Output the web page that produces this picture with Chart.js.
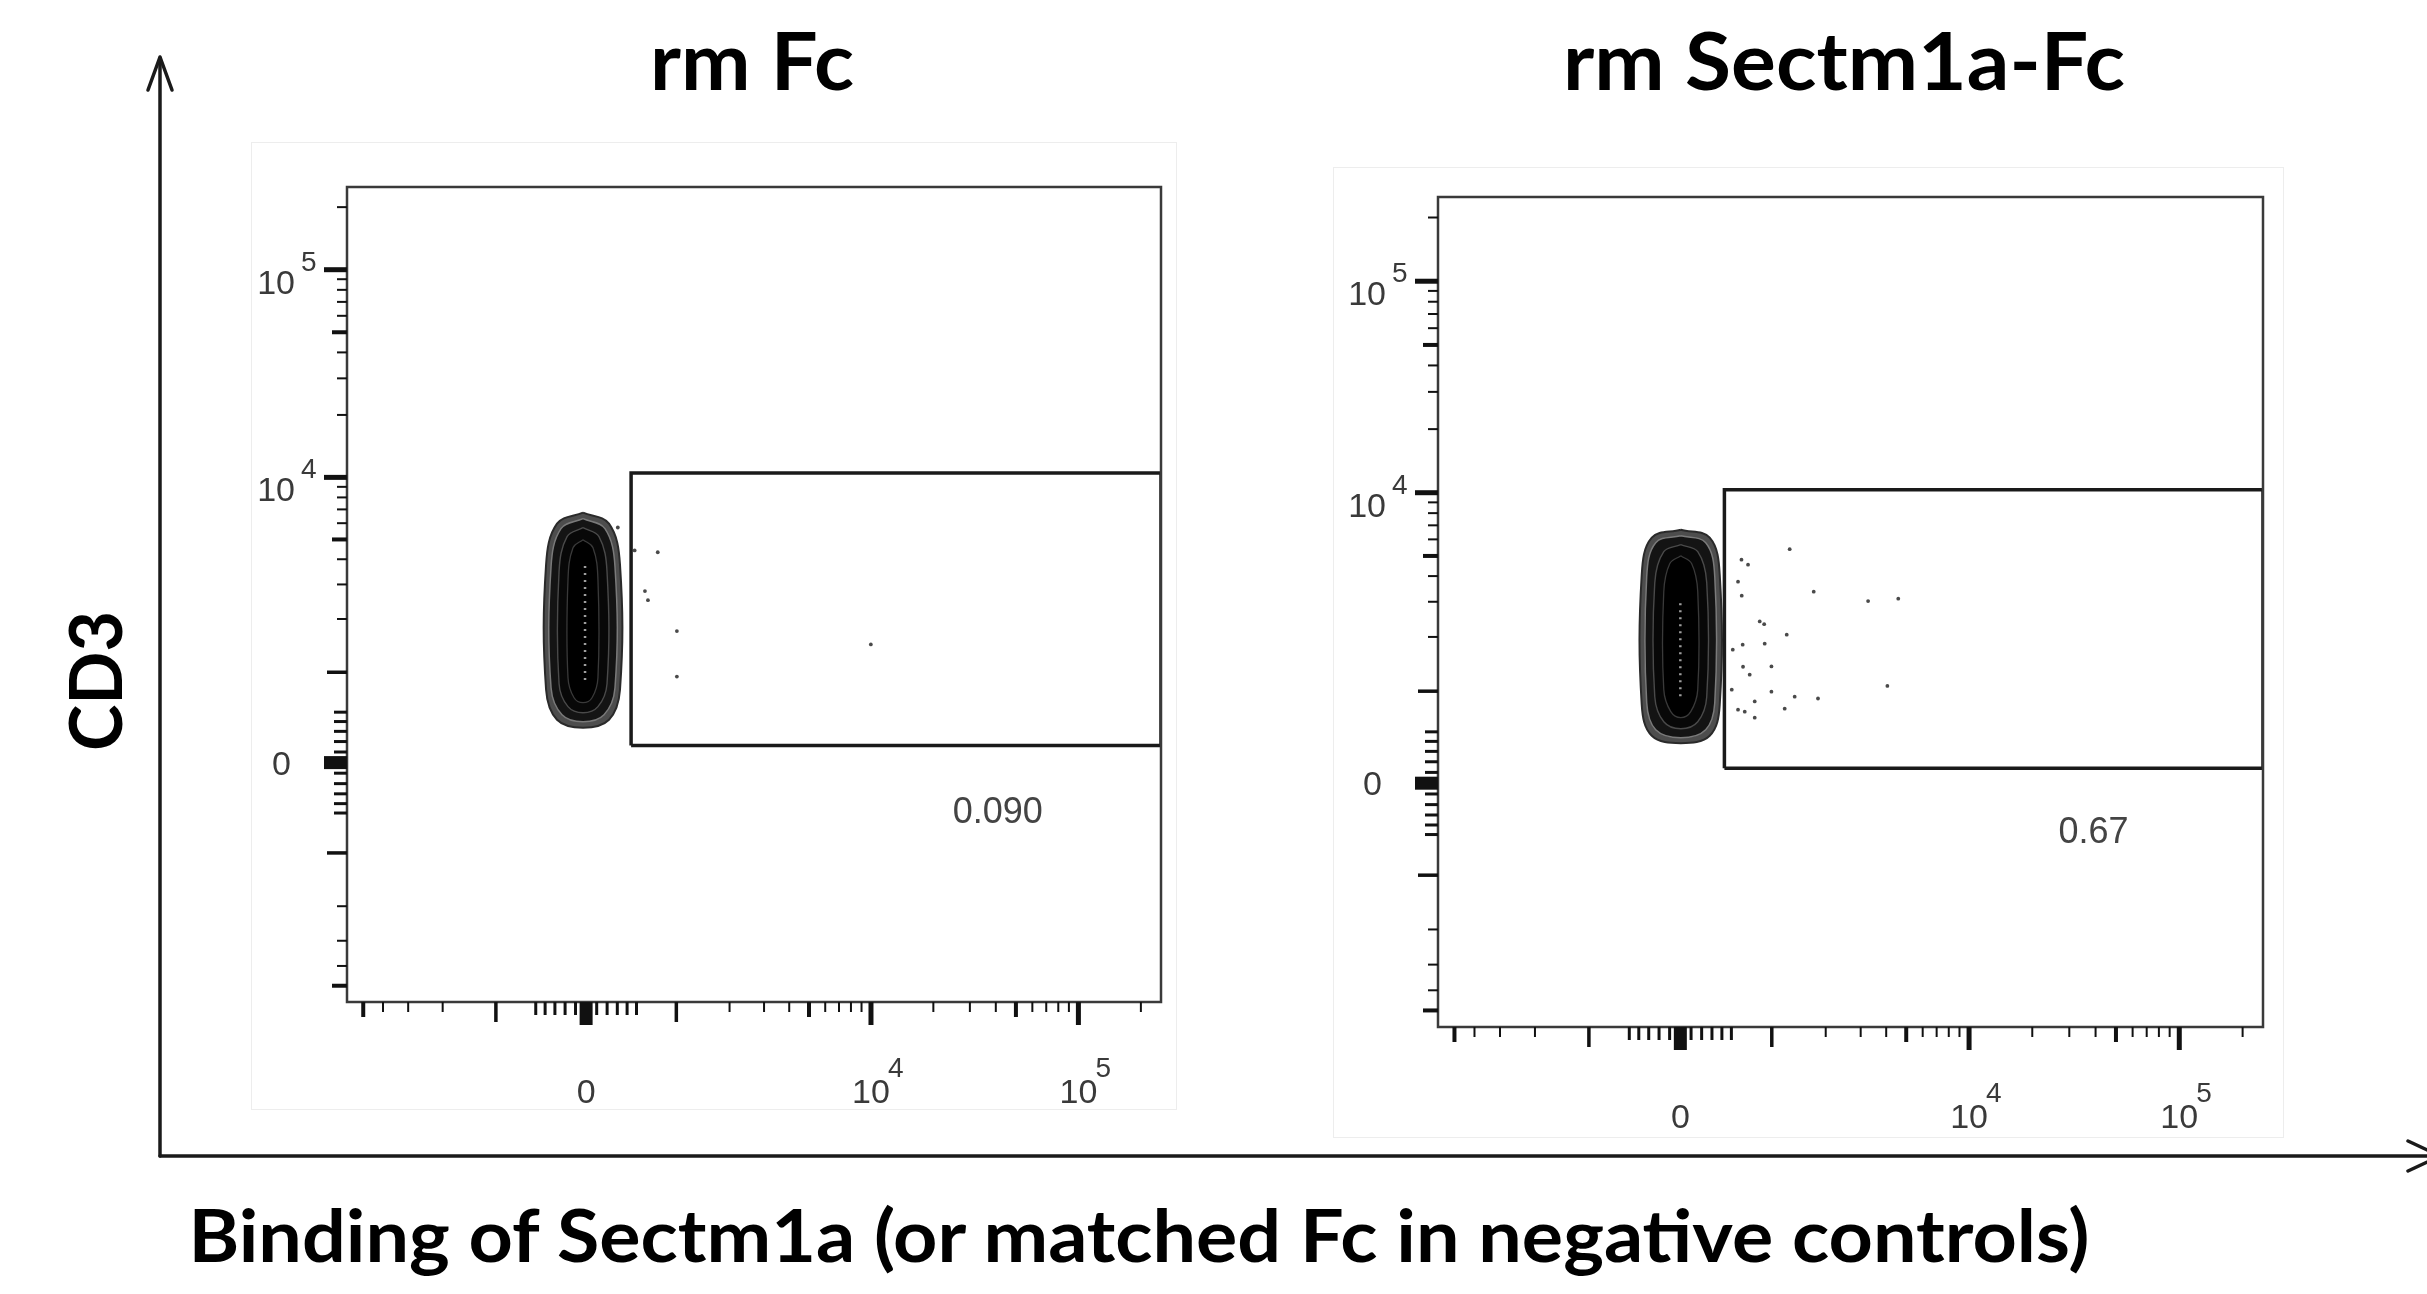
<!DOCTYPE html>
<html>
<head>
<meta charset="utf-8">
<script src="https://cdn.jsdelivr.net/npm/chart.js@4/dist/chart.umd.min.js"></script>
<style>
html,body{margin:0;padding:0;background:#fff;width:2427px;height:1294px;overflow:hidden;}
#frame{position:absolute;left:0;top:0;}
canvas{position:absolute;outline:1px solid #ededed;}
#cFc{left:252px;top:143px;}
#cSect{left:1334px;top:168px;}
</style>
</head>
<body>
<svg id="frame" width="2427" height="1294" xmlns="http://www.w3.org/2000/svg">
  <g stroke="#1a1a1a" stroke-width="3.5" fill="none" stroke-linecap="round" stroke-linejoin="round">
    <line x1="160" y1="1156" x2="160" y2="58"/>
    <polyline points="148,90 160,57 172,90"/>
    <line x1="160" y1="1156" x2="2427" y2="1156"/>
    <polyline points="2408,1141 2440,1156 2408,1171"/>
  </g>
  <g font-family="Lato, 'Open Sans', sans-serif" font-weight="bold" fill="#000">
    <text id="tFc" x="752" y="90" font-size="80" text-anchor="middle" textLength="204" lengthAdjust="spacingAndGlyphs">rm Fc</text>
    <text id="tSect" x="1844" y="90" font-size="80" text-anchor="middle" textLength="562" lengthAdjust="spacingAndGlyphs">rm Sectm1a-Fc</text>
    <text id="tX" x="1139" y="1262" font-size="73" text-anchor="middle" textLength="1901" lengthAdjust="spacingAndGlyphs">Binding of Sectm1a (or matched Fc in negative controls)</text>
    <text id="tY" transform="translate(122,681) rotate(-90)" font-size="72" text-anchor="middle" textLength="140" lengthAdjust="spacingAndGlyphs">CD3</text>
  </g>
</svg>
<canvas id="cFc" width="924" height="966"></canvas>
<canvas id="cSect" width="949" height="969"></canvas>
<script>
// ---------------- DATA ----------------
const panelTitles = ['rm Fc', 'rm Sectm1a-Fc'];
const xAxisTitle = 'Binding of Sectm1a (or matched Fc in negative controls)';
const yAxisTitle = 'CD3';

// biexponential-style axis range (both axes, both panels)
const axisMin = -6000;
const axisMax = 250000;
const axisCofactor = 850;

// axis ticks
const majorTicks = [0, 10000, 100000];
const majorTickBase = ['0', '10', '10'];
const majorTickExp = ['', '4', '5'];
const longTicks = [-1000, 1000];
const mediumTicks = [-5000, 5000, 50000];
const nearZeroTicks = [-500, -400, -300, -200, -100, 100, 200, 300, 400, 500];
const minorTicks = [-4000, -3000, -2000, 2000, 3000, 4000, 6000, 7000, 8000, 9000,
  20000, 30000, 40000, 60000, 70000, 80000, 90000, 200000];

// gate percentages and where they are written
const gatePercents = ['0.090', '0.67'];
const fcLabelAt = [40870, -496];
const sectLabelAt = [39140, -486];

// rectangular gates [x0, x1] / [y0, y1]
const fcGateX = [442, 250000];
const fcGateY = [161, 10500];
const sectGateX = [426, 250000];
const sectGateY = [138, 10340];

// contour levels of the main population (outer -> inner), [x, y]
const fcContour1 = [[-29,6747],[218,5968],[327,3761],[327,764],[218,419],[-29,337],[-279,419],[-390,764],[-390,3761],[-279,5968]];
const fcContour2 = [[-29,6311],[179,5643],[277,3676],[277,789],[170,473],[-29,399],[-230,473],[-339,789],[-339,3676],[-240,5643]];
const fcContour3 = [[-29,5706],[122,5158],[199,3473],[199,841],[112,561],[-29,494],[-172,561],[-259,841],[-259,3473],[-181,5158]];
const fcContour4 = [[-29,4988],[65,4558],[112,3169],[112,923],[56,665],[-29,607],[-114,665],[-172,923],[-172,3169],[-124,4558]];
const fcCore = [[-10,3700],[-10,880]];

const sectContour1 = [[4,6671],[278,6111],[378,4061],[378,817],[278,459],[4,382],[-270,459],[-370,817],[-370,4061],[-270,6111]];
const sectContour2 = [[4,6247],[239,5784],[328,3973],[328,843],[239,523],[4,438],[-232,523],[-320,843],[-320,3973],[-232,5784]];
const sectContour3 = [[4,5658],[163,5238],[249,3715],[249,923],[163,612],[4,534],[-155,612],[-241,923],[-241,3715],[-155,5238]];
const sectContour4 = [[4,5012],[106,4589],[163,3360],[163,1022],[97,730],[4,658],[-89,730],[-155,1022],[-155,3360],[-99,4589]];
const sectCore = [[0,2950],[0,880]];

// single events outside the contours
const fcEventsX = [305, 480, 749, 595, 630, 1008, 1008, 9985];
const fcEventsY = [5719, 4417, 4328, 2778, 2500, 1726, 939, 1460];
const sectEventsX = [1278, 612, 689, 573, 615, 1731, 835, 894, 1229, 626, 901, 995, 709, 630, 995, 1364, 1823, 771, 573, 1196, 771, 3263, 4577, 4053, 515, 504, 650];
const sectEventsY = [5385, 4796, 4538, 3757, 3212, 3360, 2397, 2321, 2053, 1823, 1845, 1395, 1253, 1389, 993, 923, 899, 860, 754, 767, 658, 3022, 3105, 1077, 1716, 1022, 730];

// ---------------- custom arcsinh (biexponential-like) scale ----------------
class AsinhScale extends Chart.Scale {
  determineDataLimits() {
    this.min = this.options.min;
    this.max = this.options.max;
  }
  buildTicks() {
    return majorTicks.map(v => ({value: v}));
  }
  configure() {
    super.configure();
    const w = this.options.cofactor;
    this._tMin = Math.asinh(this.min / w);
    this._tRange = Math.asinh(this.max / w) - this._tMin;
  }
  getPixelForValue(v) {
    const w = this.options.cofactor;
    return this.getPixelForDecimal((Math.asinh(v / w) - this._tMin) / this._tRange);
  }
  getValueForPixel(p) {
    const d = this.getDecimalForPixel(p);
    return this.options.cofactor * Math.sinh(this._tMin + d * this._tRange);
  }
  getLabelForValue(v) { return String(v); }
}
AsinhScale.id = 'asinh';
AsinhScale.defaults = {cofactor: 850};
Chart.register(AsinhScale);

// ---------------- axes / frame / labels plugin ----------------
const flowAxes = {
  id: 'flowAxes',
  afterDatasetsDraw(chart, args, opts) {
    const {ctx, chartArea: a} = chart;
    const x = chart.scales.x, y = chart.scales.y;
    ctx.save();
    // frame
    ctx.strokeStyle = '#3a3a3a';
    ctx.lineWidth = 2.5;
    ctx.strokeRect(a.left, a.top, a.right - a.left, a.bottom - a.top);
    // ticks
    ctx.strokeStyle = '#111';
    const groups = [
      [minorTicks, 10, 2],
      [nearZeroTicks, 13, 3],
      [mediumTicks, 15, 4],
      [longTicks, 20, 3.5],
      [majorTicks, 23, 5]
    ];
    for (const [vals, len, w] of groups) {
      ctx.lineWidth = w;
      for (const v of vals) {
        const px = x.getPixelForValue(v);
        ctx.beginPath(); ctx.moveTo(px, a.bottom); ctx.lineTo(px, a.bottom + len); ctx.stroke();
        const py = y.getPixelForValue(v);
        ctx.beginPath(); ctx.moveTo(a.left, py); ctx.lineTo(a.left - len, py); ctx.stroke();
      }
    }
    // thick block at zero
    ctx.lineWidth = 13;
    const x0 = x.getPixelForValue(0), y0 = y.getPixelForValue(0);
    ctx.beginPath(); ctx.moveTo(x0, a.bottom); ctx.lineTo(x0, a.bottom + 23); ctx.stroke();
    ctx.beginPath(); ctx.moveTo(a.left, y0); ctx.lineTo(a.left - 23, y0); ctx.stroke();

    // tick labels
    ctx.fillStyle = '#3a3a3a';
    ctx.textBaseline = 'alphabetic';
    majorTicks.forEach((v, i) => {
      const px = x.getPixelForValue(v);
      const py = y.getPixelForValue(v);
      ctx.font = '34px "Liberation Sans", Arial, sans-serif';
      if (!majorTickExp[i]) {
        ctx.textAlign = 'center';
        ctx.fillText(majorTickBase[i], px, a.bottom + 101);
        ctx.textAlign = 'right';
        ctx.fillText(majorTickBase[i], a.left - 56, py + 12);
      } else {
        ctx.textAlign = 'center';
        ctx.fillText(majorTickBase[i], px, a.bottom + 101);
        ctx.textAlign = 'right';
        ctx.fillText(majorTickBase[i], a.left - 52, py + 24);
        ctx.font = '28px "Liberation Sans", Arial, sans-serif';
        ctx.textAlign = 'left';
        ctx.fillText(majorTickExp[i], px + 17, a.bottom + 75);
        ctx.fillText(majorTickExp[i], a.left - 46, py + 1);
      }
    });
    // gate percentage
    const p = opts.percent;
    ctx.font = '36px "Liberation Sans", Arial, sans-serif';
    ctx.fillStyle = '#444';
    ctx.textAlign = 'center';
    ctx.textBaseline = 'middle';
    ctx.fillText(p.text, x.getPixelForValue(p.at[0]), y.getPixelForValue(p.at[1]));
    ctx.restore();
  }
};

// ---------------- build one panel ----------------
function closed(ring) { return ring.concat([ring[0]]); }
function gateRect(gx, gy) {
  return [[gx[0], gy[0]], [gx[1], gy[0]], [gx[1], gy[1]], [gx[0], gy[1]], [gx[0], gy[0]]];
}
function makePanel(id, contours, core, ex, ey, gx, gy, percentText, percentAt, pad) {
  const ringStyles = [
    {bg: '#4d4d4d', bd: '#2a2a2a', w: 2},
    {bg: '#141414', bd: '#7a7a7a', w: 1.5},
    {bg: '#080808', bd: '#4a4a4a', w: 1.4},
    {bg: '#000000', bd: '#3a3a3a', w: 1.3}
  ];
  const datasets = [];
  contours.forEach((ring, i) => {
    datasets.push({
      data: closed(ring), showLine: true, fill: 'shape', tension: 0.38,
      backgroundColor: ringStyles[i].bg, borderColor: ringStyles[i].bd,
      borderWidth: ringStyles[i].w, pointRadius: 0, order: 20 - i
    });
  });
  datasets.push({
    data: core, showLine: true, fill: false, borderColor: 'rgba(225,225,225,0.7)',
    borderWidth: 2.5, borderDash: [2, 5], pointRadius: 0, order: 5
  });
  datasets.push({
    data: ex.map((v, i) => ({x: v, y: ey[i]})), showLine: false,
    pointRadius: 1.9, pointBackgroundColor: '#4a4a4a', pointBorderWidth: 0, order: 3
  });
  datasets.push({
    data: gateRect(gx, gy), showLine: true, fill: false, tension: 0,
    borderColor: '#1a1a1a', borderWidth: 3.5, pointRadius: 0, order: 1
  });
  return new Chart(document.getElementById(id), {
    type: 'scatter',
    data: {datasets},
    options: {
      responsive: false, animation: false, devicePixelRatio: 1, events: [],
      layout: {padding: pad},
      plugins: {
        legend: {display: false}, tooltip: {enabled: false}, title: {display: false},
        flowAxes: {percent: {text: percentText, at: percentAt}}
      },
      scales: {
        x: {type: 'asinh', position: 'bottom', min: axisMin, max: axisMax, cofactor: axisCofactor, display: false},
        y: {type: 'asinh', position: 'left', min: axisMin, max: axisMax, cofactor: axisCofactor, display: false}
      }
    },
    plugins: [flowAxes]
  });
}

makePanel('cFc', [fcContour1, fcContour2, fcContour3, fcContour4], fcCore,
  fcEventsX, fcEventsY, fcGateX, fcGateY, gatePercents[0], fcLabelAt,
  {left: 95, top: 44, right: 15, bottom: 107});
makePanel('cSect', [sectContour1, sectContour2, sectContour3, sectContour4], sectCore,
  sectEventsX, sectEventsY, sectGateX, sectGateY, gatePercents[1], sectLabelAt,
  {left: 104, top: 29, right: 20, bottom: 110});

document.getElementById('tFc').textContent = panelTitles[0];
document.getElementById('tSect').textContent = panelTitles[1];
document.getElementById('tX').textContent = xAxisTitle;
document.getElementById('tY').textContent = yAxisTitle;
</script>
</body>
</html>
